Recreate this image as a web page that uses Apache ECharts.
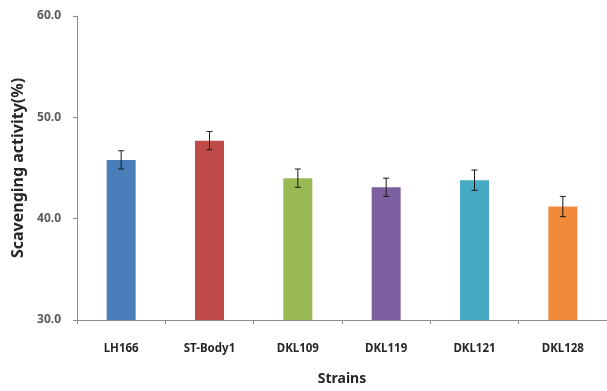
<!DOCTYPE html>
<html>
<head>
<meta charset="utf-8">
<script src="https://cdn.jsdelivr.net/npm/echarts@6/dist/echarts.min.js"></script>
<style>
  html, body { margin: 0; padding: 0; background: #fff; }
  #chart { width: 607px; height: 391px; }
</style>
</head>
<body>
<div id="chart"></div>
<script>
// Strains and their scavenging activity (%) with standard deviation
const strains = ['LH166', 'ST-Body1', 'DKL109', 'DKL119', 'DKL121', 'DKL128'];
const activity = [45.8, 47.7, 44.0, 43.1, 43.8, 41.2];
const deviation = [0.9, 0.9, 0.9, 0.9, 1.0, 1.0];
const barColors = ['#4a7ebb', '#be4b48', '#98b954', '#7d60a0', '#46aac5', '#f0893a'];
const yTicks = [30, 40, 50, 60];

const FONT = 'Noto Sans';

const chart = echarts.init(document.getElementById('chart'), null, { renderer: 'canvas' });

const errorData = activity.map((v, i) => [i, v - deviation[i], v + deviation[i]]);

chart.setOption({
  animation: false,
  backgroundColor: '#ffffff',
  grid: { left: 77, top: 16, width: 538, height: 307 },
  xAxis: {
    type: 'category',
    data: strains,
    name: 'Strains',
    nameLocation: 'middle',
    nameGap: 52,
    nameTextStyle: { fontFamily: FONT, fontWeight: 'bold', fontSize: 14, color: '#262626' },
    axisLine: { lineStyle: { color: '#8c8c8c', width: 1 } },
    axisTick: { show: true, alignWithLabel: false, length: 4, lineStyle: { color: '#8c8c8c' } },
    axisLabel: { margin: 23, fontFamily: FONT, fontWeight: 'bold', fontSize: 11.5, color: '#262626' }
  },
  yAxis: {
    type: 'value',
    min: yTicks[0],
    max: yTicks[yTicks.length - 1],
    interval: 10,
    name: 'Scavenging activity(%)',
    nameLocation: 'middle',
    nameGap: 46,
    nameTextStyle: { fontFamily: FONT, fontWeight: 'bold', fontSize: 16, color: '#262626' },
    axisLine: { show: true, lineStyle: { color: '#8c8c8c', width: 1 } },
    axisTick: { show: true, length: 4, lineStyle: { color: '#8c8c8c' } },
    splitLine: { show: false },
    axisLabel: {
      margin: 16,
      fontFamily: FONT, fontWeight: 'bold', fontSize: 12, color: '#595959',
      formatter: v => v.toFixed(1)
    }
  },
  series: [
    {
      type: 'bar',
      barWidth: 29,
      data: activity.map((v, i) => ({
        value: v,
        itemStyle: { color: barColors[i] }
      }))
    },
    {
      type: 'custom',
      z: 10,
      data: errorData,
      renderItem: (params, api) => {
        const x = api.value(0);
        const lo = api.coord([x, api.value(1)]);
        const hi = api.coord([x, api.value(2)]);
        const cap = 3;
        const style = { stroke: '#1a1a1a', lineWidth: 1 };
        return {
          type: 'group',
          children: [
            { type: 'line', shape: { x1: hi[0], y1: hi[1], x2: lo[0], y2: lo[1] }, style },
            { type: 'line', shape: { x1: hi[0] - cap, y1: hi[1], x2: hi[0] + cap, y2: hi[1] }, style },
            { type: 'line', shape: { x1: lo[0] - cap, y1: lo[1], x2: lo[0] + cap, y2: lo[1] }, style }
          ]
        };
      }
    }
  ]
});
</script>
</body>
</html>
